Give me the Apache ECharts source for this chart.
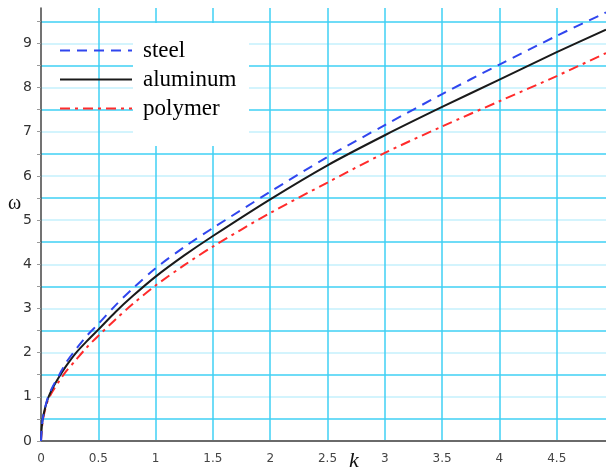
<!DOCTYPE html>
<html>
<head>
<meta charset="utf-8">
<style>
  html, body { margin: 0; padding: 0; background: #fff; }
  #chart { width: 606px; height: 473px; }
</style>
<script src="https://cdn.jsdelivr.net/npm/echarts@6/dist/echarts.min.js"></script>
</head>
<body>
<div id="chart"></div>
<script>
// Wavenumber samples shared by the three dispersion curves
const kValues = [0, 0.005, 0.015, 0.035, 0.06, 0.1, 0.16, 0.22, 0.3, 0.4, 0.5, 0.65, 0.8, 1, 1.25, 1.5, 2, 2.5, 3, 3.5, 4, 4.5, 4.93];

// Frequency ω for each material at the k samples above
const omegaSteel    = [0, 0.25, 0.5, 0.75, 0.98, 1.22, 1.5, 1.78, 2.06, 2.38, 2.65, 3.07, 3.45, 3.91, 4.39, 4.82, 5.64, 6.43, 7.15, 7.85, 8.52, 9.17, 9.70];
const omegaAluminum = [0, 0.25, 0.5, 0.74, 0.96, 1.19, 1.46, 1.70, 1.98, 2.26, 2.52, 2.92, 3.28, 3.72, 4.20, 4.64, 5.47, 6.24, 6.92, 7.56, 8.18, 8.80, 9.31];
const omegaPolymer  = [0, 0.2, 0.45, 0.7, 0.92, 1.12, 1.36, 1.58, 1.82, 2.12, 2.38, 2.75, 3.10, 3.52, 3.98, 4.40, 5.16, 5.85, 6.52, 7.12, 7.69, 8.26, 8.78];

const seriesNames = ['steel', 'aluminum', 'polymer'];

const pairs = (ys) => kValues.map((k, i) => [k, ys[i]]);

const GRID_MAJOR = '#3fd0f5';
const GRID_MINOR = '#c4f1fc';

const chart = echarts.init(document.getElementById('chart'), null, { renderer: 'canvas' });

chart.setOption({
  backgroundColor: '#ffffff',
  animation: false,
  grid: { left: 41, right: 0, top: 8, bottom: 32, containLabel: false },
  xAxis: {
    type: 'value',
    min: 0,
    max: 4.93,
    interval: 0.5,
    axisLine: { show: true, onZero: false, lineStyle: { color: '#6a6a6a', width: 2 } },
    axisTick: { show: false },
    axisLabel: {
      showMaxLabel: false,
      color: '#444',
      fontFamily: 'DejaVu Sans',
      fontSize: 12,
      margin: 12,
      formatter: (v) => (Math.abs(v * 2 - Math.round(v * 2)) < 1e-6 ? String(v) : '')
    },
    splitLine: { show: true, showMinLine: false, showMaxLine: false, lineStyle: { color: GRID_MAJOR, width: 1.5 } }
  },
  yAxis: {
    type: 'value',
    min: 0,
    max: 9.8,
    interval: 0.5,
    axisLine: { show: true, onZero: false, lineStyle: { color: '#444', width: 1.5 } },
    axisTick: { show: true, length: 4, lineStyle: { color: '#999' } },
    axisLabel: {
      showMaxLabel: false,
      color: '#333',
      fontFamily: 'DejaVu Sans',
      fontSize: 14,
      margin: 9,
      formatter: (v) => (Number.isInteger(v) ? String(v) : '')
    },
    splitLine: {
      show: true,
      showMinLine: false,
      showMaxLine: false,
      lineStyle: { color: [GRID_MAJOR, GRID_MINOR], width: 1.5 }
    }
  },
  legend: {
    orient: 'vertical',
    left: 54,
    top: 34,
    z: 5,
    itemWidth: 72,
    itemHeight: 14,
    itemGap: 6,
    data: seriesNames,
    // line-only keys: hide the marker drawn on the key line
    itemStyle: { color: 'rgba(0,0,0,0)', borderColor: 'rgba(0,0,0,0)', borderWidth: 0 },
    textStyle: {
      fontFamily: 'Liberation Serif',
      fontSize: 23,
      lineHeight: 22,
      color: '#000',
      padding: [0, 0, 0, 6]
    }
  },
  graphic: [
    // white panel behind the legend labels
    { type: 'rect', z: 3, shape: { x: 133, y: 23, width: 116, height: 123 }, style: { fill: '#ffffff' } },
    { type: 'text', z: 5, x: 349, y: 450,
      style: { text: 'k', font: 'italic 22px "Liberation Serif"', fill: '#111' } },
    { type: 'text', z: 5, x: 8, y: 194,
      style: { text: 'ω', font: '20px "Liberation Serif"', fill: '#111' } }
  ],
  series: [
    {
      name: 'steel', type: 'line', data: pairs(omegaSteel), smooth: 0.3,
      symbol: 'none', z: 4,
      lineStyle: { color: '#3046ee', width: 2, type: [10, 7] },
      itemStyle: { color: '#3046ee' }
    },
    {
      name: 'aluminum', type: 'line', data: pairs(omegaAluminum), smooth: 0.3,
      symbol: 'none', z: 3,
      lineStyle: { color: '#1a1a1a', width: 2, type: 'solid' },
      itemStyle: { color: '#1a1a1a' }
    },
    {
      name: 'polymer', type: 'line', data: pairs(omegaPolymer), smooth: 0.3,
      symbol: 'none', z: 2,
      lineStyle: { color: '#ff2b2b', width: 2, type: [10, 5, 3, 5] },
      itemStyle: { color: '#ff2b2b' }
    }
  ]
});
</script>
</body>
</html>
